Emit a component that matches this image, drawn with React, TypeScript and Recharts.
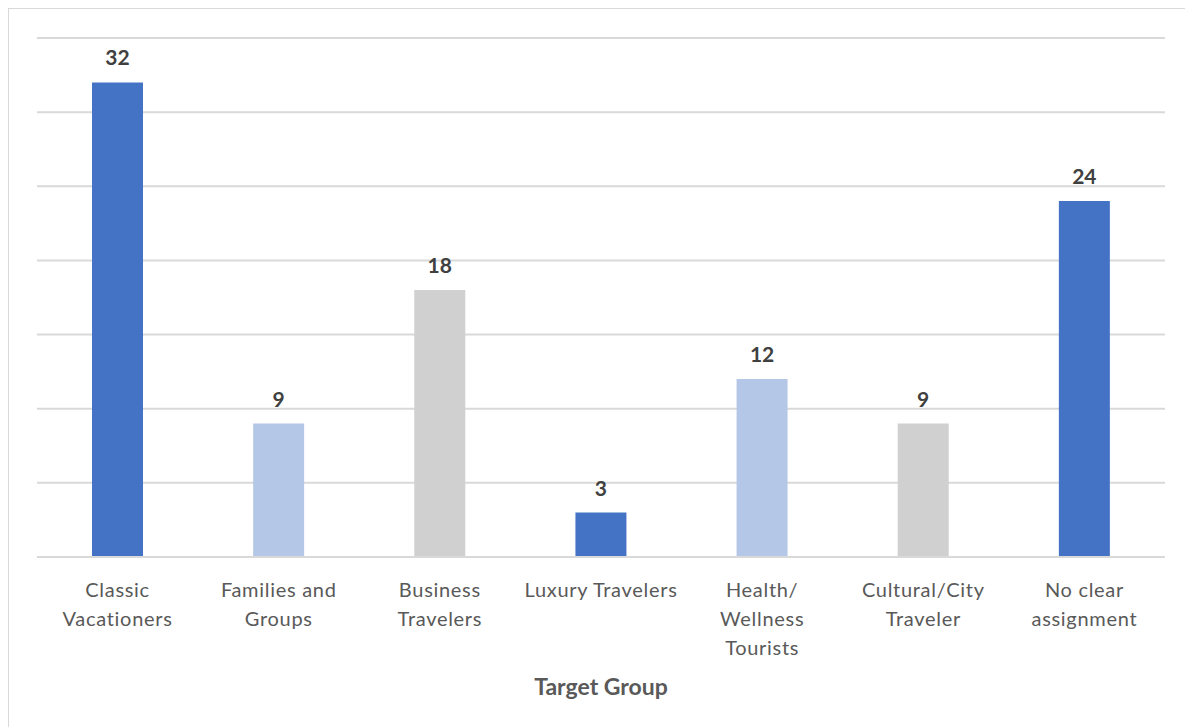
import { BarChart, Bar, XAxis, YAxis, CartesianGrid, Cell, LabelList, Label } from 'recharts';

const categories = [
    'Classic\nVacationers',
    'Families and\nGroups',
    'Business\nTravelers',
    'Luxury Travelers',
    'Health/\nWellness\nTourists',
    'Cultural/City\nTraveler',
    'No clear\nassignment',
];
const counts = [32, 9, 18, 3, 12, 9, 24];
const yTicks = [0, 5, 10, 15, 20, 25, 30, 35];

const COLORS = ['#4472C4', '#B4C7E7', '#D0D0D0']; // repeating blue / light blue / gray

const data = categories.map((name, i) => ({ name, value: counts[i] }));

function WrappedTick({ x, y, payload }: any) {
    const lines = String(payload.value).split('\n');
    return (
        <text
            x={x}
            y={y}
            textAnchor="middle"
            fill="#595959"
            fontSize={20}
            letterSpacing={0.7}
            fontFamily="Lato, sans-serif"
        >
            {lines.map((line, i) => (
                <tspan key={i} x={x} dy={i === 0 ? 32 : 29}>
                    {line}
                </tspan>
            ))}
        </text>
    );
}

export default function App() {
    return (
        <div
            style={{
                position: 'relative',
                width: 1186,
                height: 740,
                margin: '-1px 0 0 -1px',
                border: '2px solid #d9d9d9',
                boxSizing: 'border-box',
                background: '#fff',
            }}
        >
            <BarChart
                width={1182}
                height={720}
                data={data}
                margin={{ top: 29, right: 26, left: 28, bottom: 22 }}
            >
                <CartesianGrid vertical={false} stroke="#d9d9d9" strokeWidth={2} />
                <YAxis hide domain={[0, 35]} ticks={yTicks} />
                <XAxis
                    dataKey="name"
                    interval={0}
                    height={150}
                    tickLine={false}
                    axisLine={{ stroke: '#d9d9d9', strokeWidth: 2 }}
                    tick={<WrappedTick />}
                >
                    <Label
                        value="Target Group"
                        position="insideBottom"
                        offset={12}
                        fill="#595959"
                        fontSize={23}
                        fontWeight="bold"
                        fontFamily="Lato, sans-serif"
                    />
                </XAxis>
                <Bar dataKey="value" barSize={51} isAnimationActive={false}>
                    {data.map((entry, index) => (
                        <Cell key={`cell-${index}`} fill={COLORS[index % COLORS.length]} />
                    ))}
                    <LabelList
                        dataKey="value"
                        position="top"
                        offset={17}
                        fill="#404040"
                        fontSize={21}
                        fontWeight="bold"
                        fontFamily="Lato, sans-serif"
                    />
                </Bar>
            </BarChart>
        </div>
    );
}
